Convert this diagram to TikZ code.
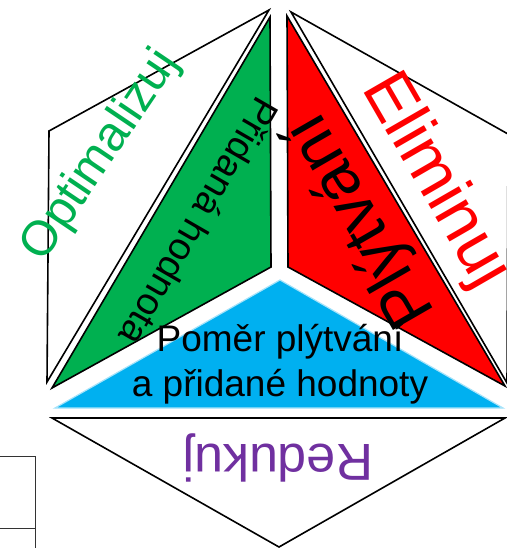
\documentclass[tikz,border=0pt]{standalone}
\usepackage{fontspec}
\setmainfont{Liberation Sans}
\definecolor{leangreen}{HTML}{00B050}
\definecolor{leanred}{HTML}{FF0000}
\definecolor{leanblue}{HTML}{00B0F0}
\definecolor{leanpurple}{HTML}{7030A0}

\begin{document}
\begin{tikzpicture}[x=1pt, y=-1pt,
	piece/.style={draw=black, line width=1.6pt, line join=miter},
	word/.style={inner sep=0pt, font=\fontsize{#1}{#1}\selectfont}]
	\useasboundingbox (0,0) rectangle (506,548);
	% outer white pieces
	\draw[piece, fill=white] (269,10) -- (49,131) -- (47,382) -- cycle;
	\draw[piece, fill=white] (291,12) -- (508,134) -- (507,383) -- cycle;
	\draw[piece, fill=white] (52,418) -- (505,418) -- (279,547) -- cycle;
	% inner coloured pieces
	\draw[piece, fill=leangreen] (270,17) -- (271,267) -- (52,388) -- cycle;
	\draw[piece, fill=leanred] (287,16) -- (288,267) -- (505,386) -- cycle;
	\fill[leanblue, draw=leanblue!35, line width=1.2pt] (280,280) -- (55,408) -- (503,408) -- cycle;
	% texts
	\node[word=49, text=leangreen, rotate=56] (optimalizuj) at (101,156) {Optimalizuj};
	\node[word=67, text=leanred, rotate=-60] (eliminuj) at (435,181) {Eliminuj};
	\node[word=38, rotate=-120] (pridana) at (200,222) {Přidaná hodnota};
	\node[word=66, rotate=120] (plytvani) at (362,220) {Plýtvání};
	\node[word=52, text=leanpurple, rotate=180] (redukuj) at (278,458) {Redukuj};
	\node[inner sep=0pt, align=center, font=\fontsize{37}{45}\selectfont] (pomer) at (280,364) {Poměr plýtvání\\a přidané hodnoty};
	% table corner
	\draw[black!80, line width=1pt] (0,456) -- (35,456) -- (35,548) (0,528) -- (35,528);
\end{tikzpicture}
\end{document}
